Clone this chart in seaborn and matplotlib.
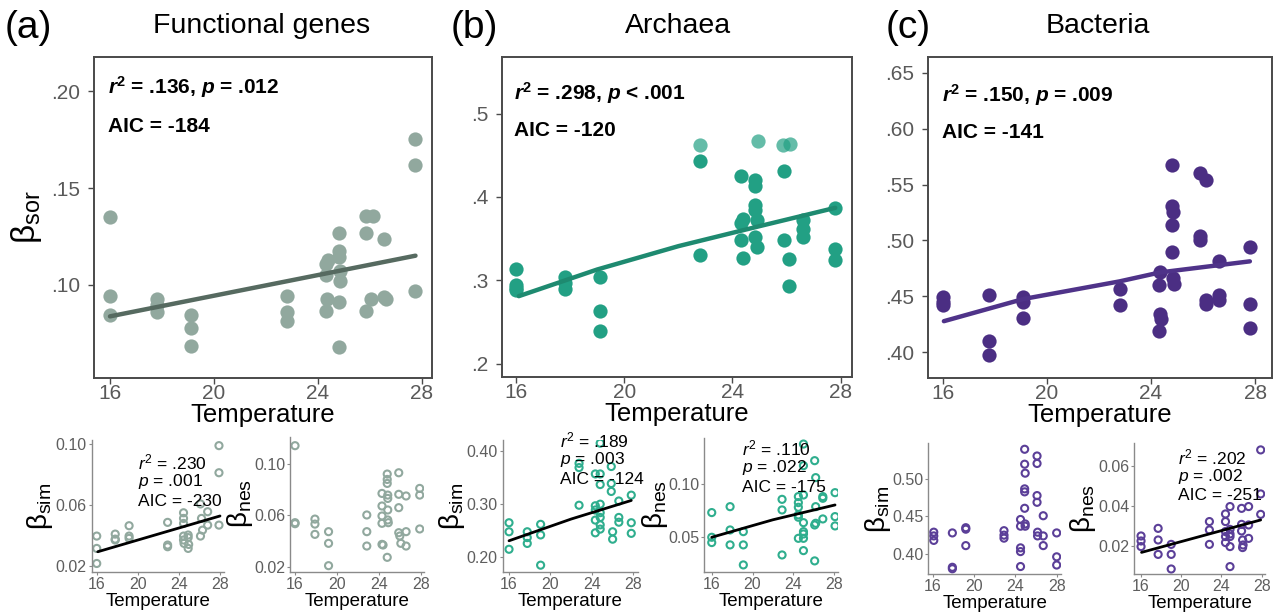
import numpy as np
import pandas as pd
import matplotlib
matplotlib.use('Agg')
import matplotlib.pyplot as plt
import seaborn as sns
from matplotlib.ticker import FixedLocator, FuncFormatter

# ---------------- data ----------------
temps_ticks = [16, 20, 24, 28]

# Main panels (beta_sor)
func_x = [16, 16, 16, 17.8, 17.8, 17.8, 19.1, 19.1, 19.1, 22.8, 22.8, 22.8,
          24.3, 24.4, 24.3, 24.35, 24.3, 24.8, 24.8, 24.8, 24.85, 24.85, 24.8, 24.8,
          25.85, 26.1, 25.85, 25.85, 26.05, 26.55, 26.55, 26.6, 27.75, 27.75, 27.75]
func_y = [.135, .0945, .0845, .093, .0895, .0862, .0845, .0776, .0687, .0945, .0859, .0816,
          .1108, .113, .1053, .0928, .0867, .1267, .1177, .1146, .1074, .1022, .091, .0678,
          .1358, .1358, .1267, .0867, .0928, .1238, .0936, .0925, .1752, .162, .0967]
func_fit_x = [16, 27.75]
func_fit_y = [.0838, .1151]

arch_x = [16, 16, 16, 16, 17.8, 17.8, 17.8, 19.1, 19.1, 19.1, 22.8, 22.8,
          24.3, 24.3, 24.3, 24.4, 24.4, 24.85, 24.85, 24.85, 24.85, 24.9, 24.85, 24.9,
          25.9, 25.9, 26.1, 26.1, 26.6, 26.6, 26.6, 27.8, 27.8, 27.8]
arch_y = [.314, .294, .291, .288, .304, .297, .290, .304, .263, .239, .443, .330,
          .425, .369, .348, .374, .327, .420, .413, .390, .384, .372, .352, .340,
          .431, .348, .326, .293, .372, .362, .352, .387, .337, .325]
arch_light_x = [22.8, 24.93, 25.88, 26.12]
arch_light_y = [.462, .467, .462, .464]
arch_fit_x = [16.1, 19, 22, 25, 27.8]
arch_fit_y = [.281, .313, .341, .365, .387]

bact_x = [16, 16, 16, 17.8, 17.8, 17.8, 19.1, 19.1, 19.1, 22.8, 22.8,
          24.35, 24.3, 24.35, 24.4, 24.3, 24.8, 24.8, 24.85, 24.8, 24.8, 24.85, 24.9,
          25.9, 25.9, 25.9, 26.1, 26.1, 26.1, 26.6, 26.6, 26.6, 27.8, 27.8, 27.8]
bact_y = [.449, .445, .442, .451, .410, .398, .449, .445, .431, .457, .442,
          .472, .460, .434, .430, .419, .567, .531, .525, .514, .490, .466, .461,
          .560, .504, .500, .554, .447, .443, .482, .451, .447, .494, .443, .422]
bact_fit_x = [16.05, 19.1, 22.8, 24.35, 27.8]
bact_fit_y = [.4278, .4476, .4634, .4714, .4813]

# Small panels
fsim_x = [16, 16, 16, 17.8, 17.8, 17.8, 19.15, 19.15, 19.15, 22.9, 22.9, 22.9,
          24.45, 24.45, 24.45, 24.45, 24.45, 24.5, 24.9, 24.9, 24.9, 24.95,
          26.1, 26.2, 26.1, 26.3, 26.8, 26.8, 27.9, 27.9, 27.9]
fsim_y = [.0395, .0314, .0215, .0408, .0375, .0369, .0463, .0395, .038, .0485, .0336, .0325,
          .0548, .0511, .0478, .0395, .0369, .0347, .0402, .0385, .0314, .034,
          .0606, .0511, .0395, .0434, .0555, .0467, .0989, .0811, .0467]
fsim_fit_x = [16.1, 28.0]
fsim_fit_y = [.0292, .0527]

fnes_x = [16, 16, 16, 17.9, 17.9, 17.9, 19.2, 19.2, 19.2, 22.85, 22.85, 22.85,
          24.3, 24.3, 24.3, 24.3, 24.3, 24.4, 24.8, 24.8, 24.8, 24.85, 24.85, 24.85, 24.85, 24.9, 24.8,
          25.9, 25.9, 25.9, 25.9, 26.0, 26.1, 26.6, 26.6, 26.6, 27.9, 27.9, 27.9]
fnes_y = [.1143, .0543, .0535, .0571, .0532, .0452, .0473, .0382, .0208, .0603, .0473, .0361,
          .0771, .0673, .0595, .0538, .0374, .0369, .0922, .088, .0849, .0758, .0732, .0642, .0564, .0543, .0273,
          .0932, .0764, .066, .0465, .0439, .0382, .0751, .0473, .0361, .081, .0758, .0494]

bsim_x = [16, 16, 16, 17.76, 17.76, 17.76, 19.05, 19.05, 19.05, 22.76, 22.76, 22.76,
          24.33, 24.33, 24.33, 24.33, 24.33, 24.8, 24.8, 24.8, 24.8, 24.8, 24.8, 24.8, 24.8,
          25.87, 25.87, 25.87, 26.0, 26.0, 26.6, 26.6, 26.6, 27.8, 27.8, 27.8]
bsim_y = [.264, .247, .214, .247, .236, .225, .261, .241, .184, .376, .368, .297,
          .356, .296, .288, .269, .245, .414, .356, .336, .299, .283, .274, .260, .252,
          .370, .338, .323, .247, .233, .305, .274, .265, .316, .264, .244]
bsim_fit_x = [16, 22, 27.8]
bsim_fit_y = [.230, .271, .306]

bnes_x = [16, 16, 16, 17.8, 17.8, 17.8, 19.1, 19.1, 19.1, 22.9, 22.9, 22.9,
          24.5, 24.5, 24.5, 24.5, 24.5, 24.5, 25, 25, 25, 25, 25, 25, 25, 25,
          26.1, 26.2, 26.2, 26.1, 26.2, 26.1, 26.9, 26.9, 26.9, 28.1, 28.1, 28.1]
bnes_y = [.0733, .050, .045, .0789, .0569, .0428, .0553, .0428, .0239, .0858, .0758, .0333,
          .0884, .0827, .0783, .0711, .0689, .049, .138, .1176, .0899, .0638, .0553, .0531, .049, .0374,
          .1223, .1063, .0789, .0616, .0632, .0277, .0884, .0868, .0673, .0921, .0695, .0607]
bnes_fit_x = [16, 22, 28.1]
bnes_fit_y = [.050, .0665, .0805]

csim_x = [16.1, 16.1, 16.1, 17.9, 17.9, 17.9, 19.2, 19.2, 19.2, 22.9, 22.9, 22.9,
          24.5, 24.5, 24.5, 24.5, 24.5, 24.9, 24.9, 24.95, 24.9, 24.9, 24.9, 24.95, 24.95,
          26.1, 26.1, 26.1, 26.1, 26.15, 26.15, 26.7, 26.7, 26.7, 28, 28, 28]
csim_y = [.429, .424, .418, .428, .382, .380, .435, .433, .411, .431, .425, .421,
          .446, .437, .408, .403, .383, .540, .520, .508, .487, .483, .461, .440, .437,
          .531, .521, .478, .469, .429, .424, .451, .424, .411, .428, .396, .385]

cnes_x = [16, 16, 16, 17.7, 17.7, 17.7, 19, 19, 19, 22.8, 22.8, 22.8,
          24.4, 24.4, 24.4, 24.4, 24.4, 24.85, 24.85, 24.85, 24.85, 24.85, 24.85,
          26, 26, 26, 26.1, 26.1, 26.15, 26.7, 26.7, 26.7, 27.9, 27.9, 27.9]
cnes_y = [.025, .0225, .0197, .0288, .023, .0158, .0208, .0158, .0085, .0322, .028, .0208,
          .036, .0322, .0272, .0247, .0217, .0397, .0283, .026, .0247, .0197, .0097,
          .0388, .0308, .0275, .023, .0192, .0205, .0397, .0305, .0238, .068, .046, .0358]
cnes_fit_x = [16.05, 27.9]
cnes_fit_y = [.0168, .033]

# ---------------- style ----------------
sns.set_style('ticks')
plt.rcParams['font.family'] = ['Liberation Sans', 'DejaVu Sans']
plt.rcParams['text.color'] = 'black'
plt.rcParams['axes.labelcolor'] = 'black'
plt.rcParams['mathtext.fontset'] = 'custom'
plt.rcParams['mathtext.rm'] = 'Liberation Sans'
plt.rcParams['mathtext.it'] = 'Liberation Sans:italic'
plt.rcParams['mathtext.bf'] = 'Liberation Sans:bold'
try:
    plt.rcParams['mathtext.bfit'] = 'Liberation Sans:bold:italic'
except KeyError:
    pass

W, H = 1280, 615
fig = plt.figure(figsize=(12.8, 6.15), dpi=100)


def add_ax(l, t, r, b):
    return fig.add_axes([l / W, 1 - b / H, (r - l) / W, (b - t) / H])


def ftext(x, y, s, **kw):
    kw.setdefault('color', 'black')
    return fig.text(x / W, 1 - y / H, s, **kw)


def fmt_nolead(decimals):
    return FuncFormatter(lambda v, p: (f"{v:.{decimals}f}").lstrip('0'))


def fmt_lead(decimals):
    return FuncFormatter(lambda v, p: f"{v:.{decimals}f}")


def style_main(ax, xlim, ylim, yticks, dec):
    ax.set_xlim(*xlim)
    ax.set_ylim(*ylim)
    ax.xaxis.set_major_locator(FixedLocator(temps_ticks))
    ax.yaxis.set_major_locator(FixedLocator(yticks))
    ax.yaxis.set_major_formatter(fmt_nolead(dec))
    for s in ax.spines.values():
        s.set_visible(True)
        s.set_color('#4a4a4a')
        s.set_linewidth(1.4)
    ax.tick_params(axis='both', direction='out', length=4, width=1, color='#4a4a4a',
                   labelcolor='#595959', labelsize=15)
    ax.tick_params(axis='x', pad=0)
    ax.tick_params(axis='y', pad=6)
    ax.set_xlabel('Temperature', fontsize=18.5, labelpad=0, color='black')
    ax.set_ylabel('')


def style_small(ax, xlim, ylim, yticks, dec):
    ax.set_xlim(*xlim)
    ax.set_ylim(*ylim)
    ax.xaxis.set_major_locator(FixedLocator(temps_ticks))
    ax.yaxis.set_major_locator(FixedLocator(yticks))
    ax.yaxis.set_major_formatter(fmt_lead(dec))
    for k in ['top', 'right']:
        ax.spines[k].set_visible(False)
    for k in ['left', 'bottom']:
        ax.spines[k].set_color('#8a8a8a')
        ax.spines[k].set_linewidth(1.0)
    ax.tick_params(axis='both', direction='out', length=2.5, width=0.8, color='#8a8a8a',
                   labelcolor='#5e5e5e', labelsize=11.5, pad=1)
    ax.set_xlabel('Temperature', fontsize=13.5, labelpad=1, color='black')
    ax.set_ylabel('')


# colours
func_pt, func_line = '#91a89e', '#566a60'
arch_pt, arch_line = '#22a084', '#1e8a70'
bact_pt, bact_line = '#4b2e83', '#4f3389'
func_open, arch_open, bact_open = '#91a89e', '#2fae8e', '#5b3f98'

# ---------------- main panels ----------------
axA = add_ax(94, 57, 432, 378)
sns.scatterplot(x=func_x, y=func_y, ax=axA, s=105, color=func_pt, linewidth=0, zorder=2)
sns.lineplot(x=func_fit_x, y=func_fit_y, ax=axA, color=func_line, linewidth=3.2, zorder=3)
style_main(axA, (15.385, 28.385), (0.052, 0.2176), [.10, .15, .20], 2)

axB = add_ax(502, 57, 852, 377)
sns.scatterplot(x=arch_x, y=arch_y, ax=axB, s=105, color=arch_pt, linewidth=0, zorder=2)
sns.scatterplot(x=arch_light_x, y=arch_light_y, ax=axB, s=105, color=arch_pt, alpha=0.7,
                linewidth=0, zorder=2)
sns.lineplot(x=arch_fit_x, y=arch_fit_y, ax=axB, color=arch_line, linewidth=3.2, zorder=3)
style_main(axB, (15.48, 28.42), (0.184, 0.568), [.2, .3, .4, .5], 1)

axC = add_ax(928, 57, 1272, 378)
sns.scatterplot(x=bact_x, y=bact_y, ax=axC, s=105, color=bact_pt, linewidth=0, zorder=2)
sns.lineplot(x=bact_fit_x, y=bact_fit_y, ax=axC, color=bact_line, linewidth=3.2, zorder=3)
style_main(axC, (15.44, 28.65), (0.377, 0.664), [.40, .45, .50, .55, .60, .65], 2)

# stats text main
ftext(108, 87, r'$\mathbfit{r}^{\mathbf{2}}$ = .136, $\mathbfit{p}$ = .012', fontsize=15,
      fontweight='bold', va='center', ha='left')
ftext(108, 126, 'AIC = -184', fontsize=15, fontweight='bold', va='center', ha='left')
ftext(514, 93, r'$\mathbfit{r}^{\mathbf{2}}$ = .298, $\mathbfit{p}$ < .001', fontsize=15,
      fontweight='bold', va='center', ha='left')
ftext(514, 130, 'AIC = -120', fontsize=15, fontweight='bold', va='center', ha='left')
ftext(942, 95, r'$\mathbfit{r}^{\mathbf{2}}$ = .150, $\mathbfit{p}$ = .009', fontsize=15,
      fontweight='bold', va='center', ha='left')
ftext(942, 132, 'AIC = -141', fontsize=15, fontweight='bold', va='center', ha='left')

# titles and panel letters
ftext(5, 28, '(a)', fontsize=28, va='center', ha='left')
ftext(451, 28, '(b)', fontsize=28, va='center', ha='left')
ftext(886, 28, '(c)', fontsize=28, va='center', ha='left')
ftext(262, 26, 'Functional genes', fontsize=20.5, va='center', ha='center')
ftext(678, 26, 'Archaea', fontsize=20.5, va='center', ha='center')
ftext(1098, 26, 'Bacteria', fontsize=20.5, va='center', ha='center')

ftext(26, 217, r'$\mathrm{\beta}_{\mathrm{sor}}$', fontsize=24, rotation=90,
      va='center', ha='center')

# ---------------- small panels ----------------
open_kw = dict(s=26, facecolor='none', linewidth=1.5, zorder=2)

ax1 = add_ax(91.7, 440, 224, 571.7)
sns.scatterplot(x=fsim_x, y=fsim_y, ax=ax1, edgecolor=func_open, **open_kw)
sns.lineplot(x=fsim_fit_x, y=fsim_fit_y, ax=ax1, color='black', linewidth=2, zorder=3)
style_small(ax1, (15.51, 28.39), (0.0161, 0.1026), [.02, .06, .10], 2)

ax2 = add_ax(290, 436.7, 424, 571.7)
sns.scatterplot(x=fnes_x, y=fnes_y, ax=ax2, edgecolor=func_open, **open_kw)
style_small(ax2, (15.52, 28.31), (0.0161, 0.1213), [.02, .06, .10], 2)

ax3 = add_ax(502.7, 440, 638, 571.7)
sns.scatterplot(x=bsim_x, y=bsim_y, ax=ax3, edgecolor=arch_open, **open_kw)
sns.lineplot(x=bsim_fit_x, y=bsim_fit_y, ax=ax3, color='black', linewidth=2, zorder=3)
style_small(ax3, (15.39, 28.45), (0.1717, 0.42), [.20, .30, .40], 2)

ax4 = add_ax(704.3, 438, 838, 571.7)
sns.scatterplot(x=bnes_x, y=bnes_y, ax=ax4, edgecolor=arch_open, **open_kw)
sns.lineplot(x=bnes_fit_x, y=bnes_fit_y, ax=ax4, color='black', linewidth=2, zorder=3)
style_small(ax4, (15.27, 28.39), (0.0175, 0.1437), [.05, .10], 2)

ax5 = add_ax(928.3, 443.3, 1061, 574)
sns.scatterplot(x=csim_x, y=csim_y, ax=ax5, edgecolor=bact_open, **open_kw)
style_small(ax5, (15.57, 28.42), (0.373, 0.548), [.40, .45, .50], 2)

ax6 = add_ax(1134.3, 443.3, 1265, 574)
sns.scatterplot(x=cnes_x, y=cnes_y, ax=ax6, edgecolor=bact_open, **open_kw)
sns.lineplot(x=cnes_fit_x, y=cnes_fit_y, ax=ax6, color='black', linewidth=2, zorder=3)
style_small(ax6, (15.33, 28.33), (0.006, 0.0713), [.02, .04, .06], 2)


# small stats text
def stats_small(x, y0, lines, dy=19.5):
    for i, s in enumerate(lines):
        ftext(x, y0 + i * dy, s, fontsize=12.5, va='center', ha='left')


stats_small(138, 462, [r'$\mathit{r}^{2}$ = .230', r'$\mathit{p}$ = .001', 'AIC = -230'])
stats_small(560, 440, [r'$\mathit{r}^{2}$ = .189', r'$\mathit{p}$ = .003', 'AIC = -124'])
stats_small(742, 448, [r'$\mathit{r}^{2}$ = .110', r'$\mathit{p}$ = .022', 'AIC = -175'])
stats_small(1178, 457, [r'$\mathit{r}^{2}$ = .202', r'$\mathit{p}$ = .002', 'AIC = -251'])

# small y labels (right edge just left of the tick labels)
for xr, yc, sub in [(55, 506, 'sim'), (255, 504, 'nes'), (467, 506, 'sim'),
                    (670, 505, 'nes'), (893, 509, 'sim'), (1098, 509, 'nes')]:
    ftext(xr, yc, r'$\mathrm{\beta}_{\mathrm{' + sub + '}}$', fontsize=20, rotation=90,
          va='center', ha='right')

fig.savefig('out.png', dpi=100)
